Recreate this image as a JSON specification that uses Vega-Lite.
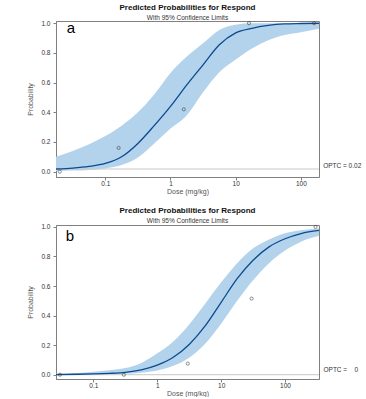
{
  "$schema": "https://vega.github.io/schema/vega-lite/v6.json",
  "padding": {"left": 26, "top": 3, "right": 0, "bottom": 0},
  "background": "white",
  "config": {
    "font": "Liberation Sans",
    "view": {"stroke": "#808080", "strokeWidth": 1},
    "axis": {
      "labelFont": "Liberation Sans", "labelFontSize": 6.5, "labelColor": "#333333", "labelOverlap": false,
      "titleFont": "Liberation Sans", "titleFontSize": 7, "titleFontWeight": "normal", "titleColor": "#555555",
      "domainColor": "#808080", "tickColor": "#808080", "tickSize": 3, "grid": false
    },
    "title": {"font": "Liberation Sans", "fontSize": 8, "fontWeight": "bold", "color": "#111111",
      "subtitleFont": "Liberation Sans", "subtitleFontSize": 6.5, "subtitleColor": "#333333",
      "anchor": "middle", "offset": -1, "subtitlePadding": 0},
    "concat": {"spacing": 11}
  },
  "datasets": {
    "one": [{"k": 1}],
    "curveA": [
      {"dose": 0.0175, "lower": 0.004, "p": 0.018, "upper": 0.10},
      {"dose": 0.0316, "lower": 0.007, "p": 0.024, "upper": 0.14},
      {"dose": 0.0562, "lower": 0.012, "p": 0.035, "upper": 0.185},
      {"dose": 0.1, "lower": 0.022, "p": 0.055, "upper": 0.24},
      {"dose": 0.178, "lower": 0.045, "p": 0.10, "upper": 0.31},
      {"dose": 0.316, "lower": 0.095, "p": 0.19, "upper": 0.40},
      {"dose": 0.562, "lower": 0.19, "p": 0.31, "upper": 0.52},
      {"dose": 1, "lower": 0.29, "p": 0.44, "upper": 0.665},
      {"dose": 1.78, "lower": 0.38, "p": 0.585, "upper": 0.775},
      {"dose": 3.16, "lower": 0.535, "p": 0.72, "upper": 0.865},
      {"dose": 5.62, "lower": 0.67, "p": 0.855, "upper": 0.955},
      {"dose": 10, "lower": 0.755, "p": 0.935, "upper": 0.99},
      {"dose": 17.8, "lower": 0.83, "p": 0.966, "upper": 1.0},
      {"dose": 31.6, "lower": 0.885, "p": 0.985, "upper": 1.0},
      {"dose": 56.2, "lower": 0.92, "p": 0.995, "upper": 1.0},
      {"dose": 100, "lower": 0.94, "p": 0.998, "upper": 1.0},
      {"dose": 190, "lower": 0.962, "p": 1.0, "upper": 1.0}
    ],
    "pointsA": [
      {"dose": 0.02, "p": 0},
      {"dose": 0.16, "p": 0.16},
      {"dose": 1.6, "p": 0.42},
      {"dose": 16, "p": 1.0},
      {"dose": 160, "p": 1.0}
    ],
    "curveB": [
      {"dose": 0.026, "lower": 0.0, "p": 0.001, "upper": 0.008},
      {"dose": 0.0562, "lower": 0.0005, "p": 0.003, "upper": 0.012},
      {"dose": 0.1, "lower": 0.001, "p": 0.005, "upper": 0.02},
      {"dose": 0.178, "lower": 0.003, "p": 0.009, "upper": 0.03},
      {"dose": 0.316, "lower": 0.006, "p": 0.016, "upper": 0.045},
      {"dose": 0.562, "lower": 0.013, "p": 0.033, "upper": 0.08},
      {"dose": 1, "lower": 0.028, "p": 0.065, "upper": 0.145},
      {"dose": 1.78, "lower": 0.06, "p": 0.118, "upper": 0.225},
      {"dose": 3.16, "lower": 0.115, "p": 0.205, "upper": 0.34},
      {"dose": 5.62, "lower": 0.21, "p": 0.33, "upper": 0.48},
      {"dose": 10, "lower": 0.345, "p": 0.49, "upper": 0.625},
      {"dose": 17.8, "lower": 0.50, "p": 0.65, "upper": 0.755},
      {"dose": 31.6, "lower": 0.64, "p": 0.775, "upper": 0.855},
      {"dose": 56.2, "lower": 0.755, "p": 0.865, "upper": 0.915},
      {"dose": 100, "lower": 0.84, "p": 0.92, "upper": 0.958},
      {"dose": 178, "lower": 0.90, "p": 0.955, "upper": 0.978},
      {"dose": 340, "lower": 0.94, "p": 0.976, "upper": 0.99}
    ],
    "pointsB": [
      {"dose": 0.03, "p": 0},
      {"dose": 0.3, "p": 0},
      {"dose": 3, "p": 0.075},
      {"dose": 30, "p": 0.515},
      {"dose": 300, "p": 1.0}
    ]
  },
  "vconcat": [
    {
      "title": {"text": "Predicted Probabilities for Respond", "subtitle": "With 95% Confidence Limits"},
      "width": 263, "height": 156,
      "layer": [
        {
          "data": {"name": "curveA"},
          "mark": {"type": "area", "color": "#b3d3ec", "interpolate": "monotone", "clip": true},
          "encoding": {
            "x": {"field": "dose", "type": "quantitative",
              "scale": {"type": "log", "domain": [0.0175, 190], "nice": false},
              "axis": {"title": "Dose (mg/kg)", "values": [0.1, 1, 10, 100], "format": "~g", "labelPadding": 0, "titlePadding": 1}},
            "y": {"field": "lower", "type": "quantitative",
              "scale": {"domain": [-0.036, 1.015], "nice": false, "zero": false},
              "axis": {"title": "Probability", "values": [0, 0.2, 0.4, 0.6, 0.8, 1.0], "tickCount": 6, "labelOverlap": false, "format": ".1f", "labelPadding": 3, "titlePadding": 7}},
            "y2": {"field": "upper"}
          }
        },
        {
          "data": {"name": "one"},
          "mark": {"type": "rule", "color": "#c8c8c8", "strokeWidth": 1},
          "encoding": {"y": {"datum": 0.018}}
        },
        {
          "data": {"name": "curveA"},
          "mark": {"type": "line", "color": "#0b4a8f", "strokeWidth": 1.3, "interpolate": "monotone", "clip": true},
          "encoding": {
            "x": {"field": "dose", "type": "quantitative"},
            "y": {"field": "p", "type": "quantitative"}
          }
        },
        {
          "data": {"name": "pointsA"},
          "mark": {"type": "point", "shape": "circle", "filled": false, "size": 10, "color": "#333333", "strokeWidth": 0.8},
          "encoding": {
            "x": {"field": "dose", "type": "quantitative"},
            "y": {"field": "p", "type": "quantitative"}
          }
        },
        {
          "data": {"name": "one"},
          "mark": {"type": "text", "text": "a", "fontSize": 15, "align": "left", "baseline": "alphabetic", "color": "#000000"},
          "encoding": {"x": {"datum": 0.0255}, "y": {"datum": 0.935}}
        },
        {
          "data": {"name": "one"},
          "mark": {"type": "text", "text": "OPTC = 0.02", "fontSize": 6.5, "align": "left", "baseline": "middle", "color": "#333333", "clip": false},
          "encoding": {"x": {"datum": 220}, "y": {"datum": 0.04}}
        }
      ]
    },
    {
      "title": {"text": "Predicted Probabilities for Respond", "subtitle": "With 95% Confidence Limits"},
      "width": 263, "height": 154,
      "layer": [
        {
          "data": {"name": "curveB"},
          "mark": {"type": "area", "color": "#b3d3ec", "interpolate": "monotone", "clip": true},
          "encoding": {
            "x": {"field": "dose", "type": "quantitative",
              "scale": {"type": "log", "domain": [0.026, 340], "nice": false},
              "axis": {"title": "Dose (mg/kg)", "values": [0.1, 1, 10, 100], "format": "~g", "labelPadding": 0, "titlePadding": 1}},
            "y": {"field": "lower", "type": "quantitative",
              "scale": {"domain": [-0.029, 1.013], "nice": false, "zero": false},
              "axis": {"title": "Probability", "values": [0, 0.2, 0.4, 0.6, 0.8, 1.0], "tickCount": 6, "labelOverlap": false, "format": ".1f", "labelPadding": 3, "titlePadding": 7}},
            "y2": {"field": "upper"}
          }
        },
        {
          "data": {"name": "one"},
          "mark": {"type": "rule", "color": "#c8c8c8", "strokeWidth": 1},
          "encoding": {"y": {"datum": 0}}
        },
        {
          "data": {"name": "curveB"},
          "mark": {"type": "line", "color": "#0b4a8f", "strokeWidth": 1.3, "interpolate": "monotone", "clip": true},
          "encoding": {
            "x": {"field": "dose", "type": "quantitative"},
            "y": {"field": "p", "type": "quantitative"}
          }
        },
        {
          "data": {"name": "pointsB"},
          "mark": {"type": "point", "shape": "circle", "filled": false, "size": 10, "color": "#333333", "strokeWidth": 0.8},
          "encoding": {
            "x": {"field": "dose", "type": "quantitative"},
            "y": {"field": "p", "type": "quantitative"}
          }
        },
        {
          "data": {"name": "one"},
          "mark": {"type": "text", "text": "b", "fontSize": 15, "align": "left", "baseline": "alphabetic", "color": "#000000"},
          "encoding": {"x": {"datum": 0.037}, "y": {"datum": 0.905}}
        },
        {
          "data": {"name": "one"},
          "mark": {"type": "text", "text": "OPTC =\u00a0\u00a0\u00a0 0", "fontSize": 6.5, "align": "left", "baseline": "middle", "color": "#333333", "clip": false},
          "encoding": {"x": {"datum": 400}, "y": {"datum": 0.034}}
        }
      ]
    }
  ]
}
